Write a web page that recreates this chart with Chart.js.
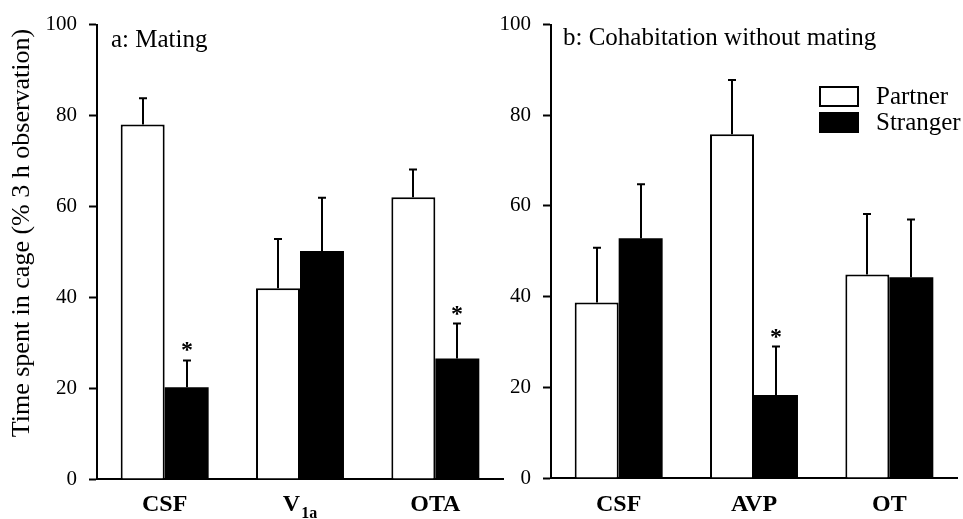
<!DOCTYPE html>
<html>
<head>
<meta charset="utf-8">
<script src="https://cdn.jsdelivr.net/npm/chart.js@4.4.0/dist/chart.umd.min.js"></script>
<style>
    html, body { margin: 0; padding: 0; background: #fff; }
    #wrap { position: relative; width: 963px; height: 519px; }
    .panel { position: absolute; top: 0; height: 519px; }
    #panelA { left: 0; width: 505px; }
    #panelB { left: 480px; width: 483px; }
</style>
</head>
<body>
<div id="wrap">
    <div class="panel" id="panelA"><canvas id="chartA"></canvas></div>
    <div class="panel" id="panelB"><canvas id="chartB"></canvas></div>
</div>
<script>
// data
const seriesNames = ['Partner', 'Stranger'];
const yTicks = [0, 20, 40, 60, 80, 100];

// panel a: Mating ("_" marks a subscript)
const categoriesA = ['CSF', 'V_1a', 'OTA'];
const partnerA = [78, 42, 62];
const partnerErrA = [5.8, 10.8, 6.1];
const strangerA = [20.2, 50.2, 26.5];
const strangerErrA = [5.9, 11.7, 7.7];
const strangerSigA = [true, false, true];

// panel b: Cohabitation without mating
const categoriesB = ['CSF', 'AVP', 'OT'];
const partnerB = [38.7, 75.8, 44.9];
const partnerErrB = [12.1, 12, 13.3];
const strangerB = [52.9, 18.3, 44.3];
const strangerErrB = [11.9, 10.7, 12.7];
const strangerSigB = [false, true, false];

const SERIF = "'Liberation Serif', 'Times New Roman', serif";

// draws error bars, asterisks, category labels, panel title, y title and legend
const decorPlugin = {
    id: 'decor',
    afterDatasetsDraw(chart) {
        const ctx = chart.ctx;
        const y = chart.scales.y;
        const extra = chart.options.plugins.decor;
        ctx.save();
        ctx.strokeStyle = '#000';
        ctx.lineWidth = 2;
        chart.data.datasets.forEach((ds, i) => {
            const meta = chart.getDatasetMeta(i);
            meta.data.forEach((bar, j) => {
                const top = y.getPixelForValue(ds.data[j] + ds.errors[j]);
                const x = Math.round(bar.x);
                ctx.beginPath();
                ctx.moveTo(x, bar.y);
                ctx.lineTo(x, top);
                ctx.moveTo(x - 4, top);
                ctx.lineTo(x + 4, top);
                ctx.stroke();
                if (ds.sig && ds.sig[j]) {
                    ctx.fillStyle = '#000';
                    ctx.font = 'bold 24px ' + SERIF;
                    ctx.textAlign = 'center';
                    ctx.textBaseline = 'alphabetic';
                    ctx.fillText('*', x, top - 3);
                }
            });
        });
        ctx.restore();
    },
    afterDraw(chart) {
        const ctx = chart.ctx;
        const xs = chart.scales.x;
        const extra = chart.options.plugins.decor;
        ctx.save();
        ctx.fillStyle = '#000';

        // category labels, with subscripts
        chart.data.labels.forEach((lab, j) => {
            const cx = xs.getPixelForValue(j);
            const parts = lab.split('_');
            ctx.font = 'bold 24px ' + SERIF;
            const w1 = ctx.measureText(parts[0]).width;
            let w2 = 0;
            if (parts[1]) {
                ctx.font = 'bold 16px ' + SERIF;
                w2 = ctx.measureText(parts[1]).width + 1;
            }
            let x0 = cx - (w1 + w2) / 2;
            ctx.textAlign = 'left';
            ctx.textBaseline = 'alphabetic';
            ctx.font = 'bold 24px ' + SERIF;
            ctx.fillText(parts[0], x0, 511);
            if (parts[1]) {
                ctx.font = 'bold 16px ' + SERIF;
                ctx.fillText(parts[1], x0 + w1 + 1, 518);
            }
        });

        // panel title
        ctx.font = '25px ' + SERIF;
        ctx.textAlign = 'left';
        ctx.textBaseline = 'middle';
        ctx.fillText(extra.title, extra.titleX, extra.titleY);

        // y axis title
        if (extra.yTitle) {
            ctx.save();
            ctx.translate(22, 233);
            ctx.rotate(-Math.PI / 2);
            ctx.font = '26px ' + SERIF;
            ctx.textAlign = 'center';
            ctx.textBaseline = 'middle';
            ctx.fillText(extra.yTitle, 0, 0);
            ctx.restore();
        }

        // legend
        if (extra.legend) {
            chart.data.datasets.forEach((ds, i) => {
                const by = 87 + i * 26;
                ctx.fillStyle = ds.backgroundColor;
                ctx.fillRect(340, by, 38, 19);
                ctx.strokeStyle = '#000';
                ctx.lineWidth = 2;
                ctx.strokeRect(340, by, 38, 19);
                ctx.fillStyle = '#000';
                ctx.font = '25px ' + SERIF;
                ctx.textAlign = 'left';
                ctx.textBaseline = 'middle';
                ctx.fillText(ds.label, 396, by + 10);
            });
        }
        ctx.restore();
    }
};

function makeChart(canvasId, cfg) {
    const ctx = document.getElementById(canvasId).getContext('2d');
    return new Chart(ctx, {
        type: 'bar',
        data: {
            labels: cfg.categories,
            datasets: [{
                label: seriesNames[0],
                data: cfg.partner,
                errors: cfg.partnerErr,
                backgroundColor: '#fff',
                borderColor: '#000',
                borderWidth: 2,
                borderSkipped: 'start'
            }, {
                label: seriesNames[1],
                data: cfg.stranger,
                errors: cfg.strangerErr,
                sig: cfg.sig,
                backgroundColor: '#000',
                borderColor: '#000',
                borderWidth: 0
            }]
        },
        options: {
            responsive: true,
            maintainAspectRatio: false,
            animation: false,
            events: [],
            categoryPercentage: 0.65,
            barPercentage: 1.0,
            layout: {
                padding: { top: cfg.top, right: cfg.padRight, left: 0, bottom: 0 }
            },
            plugins: {
                legend: { display: false },
                tooltip: { enabled: false },
                decor: {
                    title: cfg.title,
                    titleX: cfg.titleX,
                    titleY: cfg.titleY,
                    yTitle: cfg.yTitle,
                    legend: cfg.legend
                }
            },
            scales: {
                x: {
                    ticks: { display: false },
                    grid: { display: false },
                    border: { display: true, color: '#000', width: 2 },
                    afterFit: s => { s.height = cfg.xHeight; }
                },
                y: {
                    min: 0,
                    max: 100,
                    afterBuildTicks: s => { s.ticks = yTicks.map(v => ({ value: v })); },
                    ticks: {
                        color: '#000',
                        padding: 12,
                        font: { family: SERIF, size: 21 }
                    },
                    grid: {
                        drawOnChartArea: false,
                        drawTicks: true,
                        tickLength: 8,
                        tickWidth: 2,
                        color: '#000'
                    },
                    border: { display: true, color: '#000', width: 2 },
                    afterFit: s => { s.width = cfg.yWidth; }
                }
            }
        },
        plugins: [decorPlugin]
    });
}

makeChart('chartA', {
    categories: categoriesA,
    partner: partnerA,
    partnerErr: partnerErrA,
    stranger: strangerA,
    strangerErr: strangerErrA,
    sig: strangerSigA,
    title: 'a: Mating',
    titleX: 111,
    titleY: 40,
    yTitle: 'Time spent in cage (% 3 h observation)',
    legend: false,
    top: 23,
    padRight: 2,
    yWidth: 97,
    xHeight: 40
});

makeChart('chartB', {
    categories: categoriesB,
    partner: partnerB,
    partnerErr: partnerErrB,
    stranger: strangerB,
    strangerErr: strangerErrB,
    sig: strangerSigB,
    title: 'b: Cohabitation without mating',
    titleX: 83,
    titleY: 38,
    yTitle: null,
    legend: true,
    top: 20,
    padRight: 6,
    yWidth: 71,
    xHeight: 41
});
</script>
</body>
</html>
